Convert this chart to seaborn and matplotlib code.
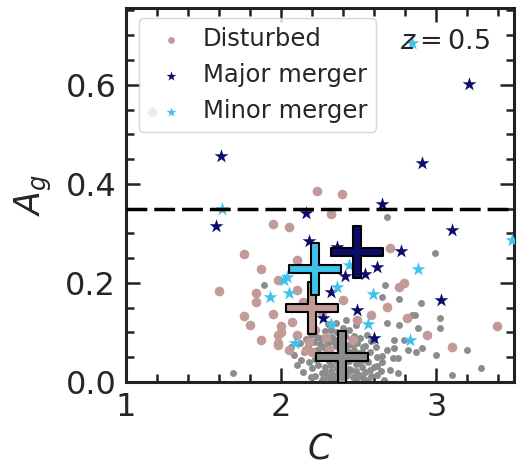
import matplotlib
matplotlib.use('Agg')
import seaborn as sns
import numpy as np
from matplotlib import pyplot as plt
from matplotlib.path import Path
from matplotlib.ticker import MultipleLocator

# all galaxies (grey dots)
all_c = [
    2.30, 2.34, 2.38, 2.42, 2.46, 2.50, 2.26, 2.22, 2.54, 2.58,
    2.28, 2.32, 2.36, 2.40, 2.44, 2.48, 2.52, 2.24, 2.20, 2.56,
    2.30, 2.34, 2.38, 2.42, 2.46, 2.50, 2.26, 2.22, 2.18, 2.60,
    2.31, 2.35, 2.39, 2.43, 2.47, 2.27, 2.23, 2.53, 2.15, 2.62,
    2.29, 2.33, 2.37, 2.41, 2.45, 2.25, 2.21, 2.51, 2.57, 2.65,
    2.32, 2.36, 2.40, 2.28, 2.44, 2.19, 2.55, 2.12, 2.08, 2.68,
    2.36, 2.40, 2.44, 2.48, 2.32, 2.27, 2.52, 2.56, 2.62, 2.70,
    2.35, 2.42, 2.30, 2.48, 2.60, 2.72, 2.75, 2.66, 2.14, 2.10,
    2.68, 2.99, 2.67, 2.76, 2.90, 2.86, 3.02, 3.02, 2.76, 3.00,
    3.10, 3.20, 3.29, 2.87, 2.91, 1.69, 2.68, 1.89, 2.65, 2.73,
    2.84, 2.79, 2.73, 2.88, 2.82, 2.75, 2.65, 2.62, 2.55,
    2.28, 2.32, 2.36, 2.40, 2.44, 2.48, 2.24, 2.52, 2.34, 2.38,
    2.42, 2.46, 2.30, 2.26, 2.50, 2.54, 2.37, 2.41, 2.33, 2.45,
    2.29, 2.35, 2.39, 2.43, 2.47, 2.31, 2.25, 2.49, 2.21, 2.58,
    2.17, 2.19, 2.23, 2.53, 2.57, 2.61, 2.64, 2.16, 2.13, 2.06,
]
all_a = [
    0.010, 0.015, 0.008, 0.012, 0.010, 0.014, 0.018, 0.012, 0.020, 0.012,
    0.030, 0.035, 0.028, 0.032, 0.027, 0.036, 0.030, 0.034, 0.028, 0.040,
    0.050, 0.055, 0.046, 0.052, 0.048, 0.058, 0.052, 0.047, 0.040, 0.030,
    0.068, 0.072, 0.066, 0.074, 0.065, 0.070, 0.064, 0.070, 0.060, 0.050,
    0.085, 0.090, 0.083, 0.092, 0.086, 0.088, 0.080, 0.088, 0.060, 0.040,
    0.105, 0.100, 0.110, 0.102, 0.104, 0.095, 0.095, 0.078, 0.055, 0.065,
    0.003, 0.020, 0.042, 0.022, 0.022, 0.006, 0.045, 0.005, 0.015, 0.025,
    0.120, 0.125, 0.118, 0.115, 0.085, 0.048, 0.018, 0.005, 0.020, 0.035,
    0.333, 0.261, 0.196, 0.168, 0.160, 0.135, 0.129, 0.109, 0.115, 0.055,
    0.014, 0.065, 0.028, 0.060, 0.068, 0.018, 0.119, 0.196, 0.172, 0.085,
    0.135, 0.085, 0.068, 0.108, 0.065, 0.048, 0.053, 0.033, 0.043,
    0.020, 0.004, 0.040, 0.004, 0.060, 0.004, 0.060, 0.060, 0.080, 0.062,
    0.040, 0.075, 0.078, 0.004, 0.040, 0.072, 0.018, 0.064, 0.012, 0.025,
    0.058, 0.085, 0.095, 0.020, 0.092, 0.042, 0.076, 0.078, 0.058, 0.082,
    0.070, 0.010, 0.090, 0.008, 0.025, 0.070, 0.022, 0.086, 0.045, 0.070,
]

# disturbed
dist_c = [
    1.95, 2.05, 1.76, 1.87, 1.60, 1.84, 1.84, 1.76, 1.80, 1.87,
    1.95, 1.98, 1.98, 2.00, 1.98, 2.23, 2.39, 2.32, 2.10, 1.98,
    2.70, 2.79, 2.76, 2.68, 2.58, 2.81, 2.94, 3.10, 3.39, 2.49,
    2.46, 2.07, 2.10, 2.00, 2.18, 2.16, 2.29, 2.05, 2.31, 2.13,
    2.10, 2.14, 2.33, 2.40, 1.17, 2.22, 2.26, 2.20,
]
dist_a = [
    0.319, 0.313, 0.259, 0.228, 0.184, 0.180, 0.162, 0.133, 0.115, 0.085,
    0.137, 0.095, 0.075, 0.113, 0.206, 0.386, 0.380, 0.340, 0.246, 0.078,
    0.270, 0.200, 0.192, 0.152, 0.135, 0.129, 0.095, 0.071, 0.113, 0.125,
    0.085, 0.121, 0.095, 0.101, 0.081, 0.065, 0.091, 0.065, 0.065, 0.230,
    0.186, 0.162, 0.152, 0.166, 0.545, 0.105, 0.140, 0.060,
]

# major mergers
major_c = [1.61, 1.58, 2.16, 2.65, 2.91, 3.21, 3.10, 2.18, 2.36, 2.77,
           2.62, 2.54, 2.41, 2.32, 2.49, 2.27, 3.03, 2.60]
major_a = [0.456, 0.315, 0.341, 0.360, 0.443, 0.602, 0.307, 0.285, 0.273, 0.265,
           0.232, 0.218, 0.214, 0.182, 0.145, 0.129, 0.166, 0.089]

# minor mergers
minor_c = [2.84, 1.62, 2.88, 2.59, 2.83, 1.93, 2.09, 2.32, 2.56, 2.36,
           2.04, 2.05, 2.44, 3.49, 2.02]
minor_a = [0.685, 0.350, 0.228, 0.178, 0.085, 0.172, 0.079, 0.117, 0.117, 0.192,
           0.212, 0.180, 0.236, 0.287, 0.205]

# medians (big crosses): all, disturbed, minor, major
med_c = [2.39, 2.20, 2.22, 2.49]
med_a = [0.050, 0.150, 0.228, 0.263]
med_colors = ['#8c8c8c', '#c29a98', '#3ec3ec', '#0b0b6e']

grey = '#8c8c8c'
brown = '#c29a98'
navy = '#0b0b6e'
cyan = '#3ec3ec'

sns.set_style('ticks')
plt.rcParams['font.family'] = ['DejaVu Sans']
plt.rcParams['mathtext.fontset'] = 'dejavusans'

fig = plt.figure(figsize=(5.17, 4.67), dpi=100)
ax = fig.add_axes([0.2437, 0.182, 0.7505, 0.801])

sns.scatterplot(x=all_c, y=all_a, color=grey, s=25, linewidth=0, ax=ax, zorder=2)
sns.scatterplot(x=dist_c, y=dist_a, color=brown, s=48, linewidth=0, ax=ax,
                label='Disturbed', zorder=3)
sns.scatterplot(x=major_c, y=major_a, color=navy, marker='*', s=110, linewidth=0,
                ax=ax, label='Major merger', zorder=4)
sns.scatterplot(x=minor_c, y=minor_a, color=cyan, marker='*', s=110, linewidth=0,
                ax=ax, label='Minor merger', zorder=4)

# thick plus marker
w = 0.17
plus = Path([(-w, -1), (w, -1), (w, -w), (1, -w), (1, w), (w, w), (w, 1),
             (-w, 1), (-w, w), (-1, w), (-1, -w), (-w, -w), (-w, -1)], closed=True)
for c, a, col in zip(med_c, med_a, med_colors):
    ax.scatter([c], [a], marker=plus, s=1450, color=col, edgecolor='black',
               linewidth=1.5, zorder=6)

ax.axhline(0.35, color='black', lw=2.5, linestyle=(0, (6, 2)), zorder=5)

ax.set_xlim(1, 3.5)
ax.set_ylim(0, 0.755)
ax.xaxis.set_major_locator(MultipleLocator(1))
ax.xaxis.set_minor_locator(MultipleLocator(0.2))
ax.yaxis.set_minor_locator(MultipleLocator(0.05))
ax.set_yticks([0, 0.2, 0.4, 0.6])
ax.set_yticklabels(['0.0', '0.2', '0.4', '0.6'])
ax.tick_params(which='both', direction='in', top=True, right=True,
               labelsize=23, width=1.8, color='#222222', pad=7)
ax.tick_params(which='major', length=10)
ax.tick_params(which='minor', length=6)
for sp in ax.spines.values():
    sp.set_linewidth(2.2)
    sp.set_color('#222222')

ax.set_xlabel('$C$', fontsize=25, labelpad=6)
ax.set_ylabel('$A_g$', fontsize=25, labelpad=8)

ax.legend(loc='upper left', fontsize=17.5, handletextpad=0.3, borderpad=0.35,
          labelspacing=0.5, bbox_to_anchor=(0.02, 0.985), handlelength=2.0,
          markerscale=0.7, borderaxespad=0.2)
ax.text(0.94, 0.91, '$z = 0.5$', transform=ax.transAxes, fontsize=19.5,
        ha='right', va='center', zorder=7)

plt.savefig('out.png', dpi=100)
